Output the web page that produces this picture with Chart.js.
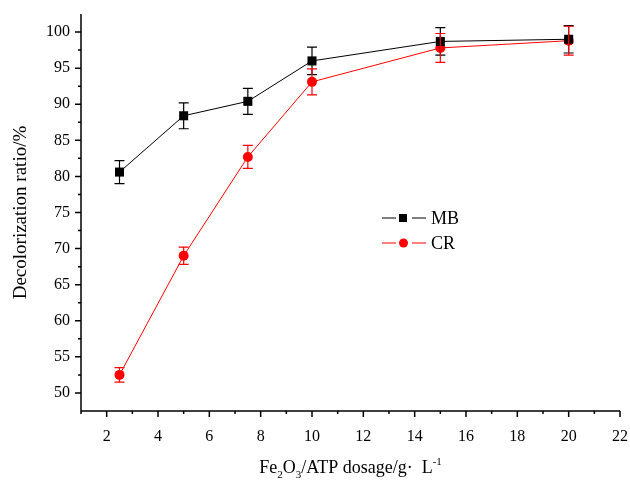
<!DOCTYPE html>
<html>
<head>
<meta charset="utf-8">
<script src="https://cdn.jsdelivr.net/npm/chart.js@4/dist/chart.umd.min.js"></script>
<style>
  html, body { margin: 0; padding: 0; background: #fff; }
  #wrap { width: 630px; height: 485px; }
</style>
</head>
<body>
<div id="wrap"><canvas id="myChart"></canvas></div>
<script>
const dosage = [2.5, 5, 7.5, 10, 15, 20];
const mbValues = [80.6, 88.4, 90.4, 96.0, 98.7, 99.0];
const mbErrors = [1.6, 1.8, 1.8, 1.9, 1.9, 1.9];
const crValues = [52.5, 69.0, 82.7, 93.1, 97.8, 98.8];
const crErrors = [1.0, 1.2, 1.6, 1.8, 2.0, 2.0];
const xTicks = [2, 4, 6, 8, 10, 12, 14, 16, 18, 20, 22];
const yTicks = [50, 55, 60, 65, 70, 75, 80, 85, 90, 95, 100];

const serif = '"Liberation Serif", "Times New Roman", serif';

// error bars + minor ticks + legend + x title
const extras = {
    id: 'extras',
    afterDatasetsDraw(chart) {
        const ctx = chart.ctx;
        const xs = chart.scales.x, ys = chart.scales.y;
        const sets = [
            {vals: mbValues, errs: mbErrors, color: '#000'},
            {vals: crValues, errs: crErrors, color: '#ff0000'}
        ];
        ctx.save();
        ctx.lineWidth = 1.2;
        sets.forEach(s => {
            ctx.strokeStyle = s.color;
            s.vals.forEach((v, i) => {
                const px = xs.getPixelForValue(dosage[i]);
                const top = ys.getPixelForValue(v + s.errs[i]);
                const bot = ys.getPixelForValue(v - s.errs[i]);
                ctx.beginPath();
                ctx.moveTo(px, top); ctx.lineTo(px, bot);
                ctx.moveTo(px - 5, top); ctx.lineTo(px + 5, top);
                ctx.moveTo(px - 5, bot); ctx.lineTo(px + 5, bot);
                ctx.stroke();
            });
        });
        ctx.restore();
    },
    afterDraw(chart) {
        const ctx = chart.ctx;
        const xs = chart.scales.x, ys = chart.scales.y;
        const area = chart.chartArea;
        ctx.save();
        ctx.strokeStyle = '#000';
        ctx.lineWidth = 1.5;
        ctx.beginPath();
        // axes
        ctx.moveTo(area.left, area.top); ctx.lineTo(area.left, area.bottom);
        ctx.lineTo(area.right, area.bottom);
        // x ticks, major every 2, minor every 1
        for (let v = 1; v <= 22; v++) {
            const px = xs.getPixelForValue(v);
            const len = v % 2 === 0 ? 6 : 3;
            ctx.moveTo(px, area.bottom); ctx.lineTo(px, area.bottom + len);
        }
        // y ticks, major every 5, minor every 2.5
        for (let v = 50; v <= 100; v += 2.5) {
            const py = ys.getPixelForValue(v);
            const len = v % 5 === 0 ? 6 : 3;
            ctx.moveTo(area.left, py); ctx.lineTo(area.left - len, py);
        }
        ctx.stroke();

        // legend
        const legend = [
            {label: 'MB', color: '#000', shape: 'rect', y: 218},
            {label: 'CR', color: '#ff0000', shape: 'circle', y: 243}
        ];
        ctx.font = '18px ' + serif;
        ctx.textBaseline = 'middle';
        legend.forEach(l => {
            ctx.strokeStyle = l.color;
            ctx.fillStyle = l.color;
            ctx.lineWidth = 1;
            ctx.beginPath();
            ctx.moveTo(382, l.y); ctx.lineTo(396, l.y);
            ctx.moveTo(412, l.y); ctx.lineTo(426, l.y);
            ctx.stroke();
            if (l.shape === 'rect') {
                ctx.fillRect(399, l.y - 4, 8, 8);
            } else {
                ctx.beginPath();
                ctx.arc(403.5, l.y, 4.5, 0, Math.PI * 2);
                ctx.fill();
            }
            ctx.fillStyle = '#000';
            ctx.textAlign = 'left';
            ctx.fillText(l.label, 431, l.y + 1);
        });

        // x title with sub/superscripts
        const parts = [
            {t: 'Fe', s: 18, dy: 0},
            {t: '2', s: 11, dy: 5},
            {t: 'O', s: 18, dy: 0},
            {t: '3', s: 11, dy: 5},
            {t: '/ATP dosage/g\u00B7  L', s: 18, dy: 0},
            {t: '-1', s: 11, dy: -8}
        ];
        let total = 0;
        parts.forEach(p => { ctx.font = p.s + 'px ' + serif; p.w = ctx.measureText(p.t).width; total += p.w; });
        let x = (area.left + area.right) / 2 - total / 2;
        ctx.textAlign = 'left';
        ctx.textBaseline = 'alphabetic';
        ctx.fillStyle = '#000';
        parts.forEach(p => {
            ctx.font = p.s + 'px ' + serif;
            ctx.fillText(p.t, x, 473 + p.dy);
            x += p.w;
        });
        ctx.restore();
    }
};

new Chart(document.getElementById('myChart'), {
    type: 'line',
    data: {
        datasets: [{
            label: 'MB',
            data: dosage.map((d, i) => ({x: d, y: mbValues[i]})),
            borderColor: '#000',
            backgroundColor: '#000',
            borderWidth: 1,
            pointStyle: 'rect',
            pointRadius: 6.4,
            pointHoverRadius: 6.4,
            pointBorderWidth: 0,
            tension: 0
        }, {
            label: 'CR',
            data: dosage.map((d, i) => ({x: d, y: crValues[i]})),
            borderColor: '#ff0000',
            backgroundColor: '#ff0000',
            borderWidth: 1,
            pointStyle: 'circle',
            pointRadius: 5,
            pointHoverRadius: 5,
            pointBorderWidth: 0,
            tension: 0
        }]
    },
    options: {
        responsive: true,
        maintainAspectRatio: false,
        animation: false,
        layout: {padding: {top: 14, right: 10, left: 0, bottom: 0}},
        plugins: {
            legend: {display: false},
            tooltip: {enabled: false}
        },
        scales: {
            x: {
                type: 'linear',
                min: 1,
                max: 22,
                afterBuildTicks: s => { s.ticks = xTicks.map(v => ({value: v})); },
                afterFit: s => { s.height = 74; s.paddingLeft = 0; s.paddingRight = 0; },
                grid: {display: false, drawTicks: false},
                border: {display: false},
                ticks: {
                    padding: 16,
                    color: '#000',
                    font: {family: serif, size: 16}
                }
            },
            y: {
                min: 47.5,
                max: 102.5,
                afterBuildTicks: s => { s.ticks = yTicks.map(v => ({value: v})); },
                afterFit: s => { s.width = 81; s.paddingTop = 0; s.paddingBottom = 0; },
                grid: {display: false, drawTicks: false},
                border: {display: false},
                title: {
                    display: true,
                    text: 'Decolorization ratio/%',
                    color: '#000',
                    font: {family: serif, size: 19},
                    padding: {top: 10, bottom: 0}
                },
                ticks: {
                    padding: 11,
                    color: '#000',
                    font: {family: serif, size: 16}
                }
            }
        }
    },
    plugins: [extras]
});
</script>
</body>
</html>
